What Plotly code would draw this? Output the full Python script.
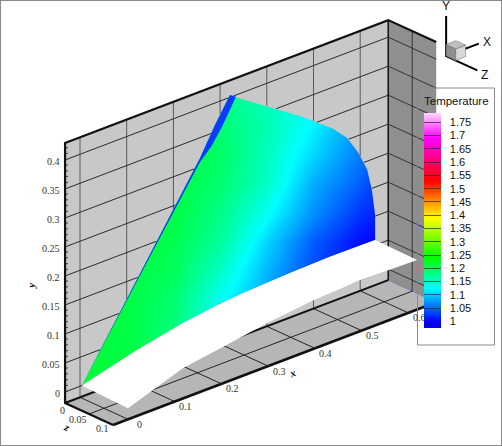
import numpy as np
import plotly.graph_objects as go

# axis limits of the box and the axis ticks
X_MIN, X_MAX = -0.032, 0.66
Y_MIN, Y_MAX = -0.019, 0.4294
Z_MIN, Z_MAX = 0.0, 0.1
X_TICKS = [0, 0.1, 0.2, 0.3, 0.4, 0.5, 0.6]
Y_TICKS = [0, 0.05, 0.1, 0.15, 0.2, 0.25, 0.3, 0.35, 0.4]
Y_MINOR = [0, 0.01, 0.02, 0.03, 0.04, 0.06, 0.07, 0.08, 0.09, 0.11, 0.12, 0.13, 0.14, 0.16, 0.17, 0.18,
           0.19, 0.21, 0.22, 0.23, 0.24, 0.26, 0.27, 0.28, 0.29, 0.31, 0.32, 0.33, 0.34, 0.36, 0.37,
           0.38, 0.39, 0.41, 0.42]
Z_TICKS = [0, 0.05, 0.1]
LEGEND_TICKS = [1, 1.05, 1.1, 1.15, 1.2, 1.25, 1.3, 1.35, 1.4, 1.45, 1.5, 1.55, 1.6, 1.65, 1.7, 1.75]
LEGEND_LABELS = ["1", "1.05", "1.1", "1.15", "1.2", "1.25", "1.3", "1.35", "1.4", "1.45",
                 "1.5", "1.55", "1.6", "1.65", "1.7", "1.75"]

# outline of the temperature plane (z = 0)
arc_x = [0.332, 0.385, 0.428, 0.471, 0.507, 0.542, 0.572, 0.595, 0.615, 0.625, 0.632, 0.632]
arc_y = [0.397, 0.369, 0.345, 0.322, 0.300, 0.278, 0.253, 0.222, 0.185, 0.147, 0.102, 0.059]
shock_x = [0.321, 0.289, 0.257, 0.004]
shock_y = [0.404, 0.362, 0.315, 0.0]
shock_inner_x = [0.334, 0.304, 0.2805, 0.257, 0.004]
shock_inner_y = [0.397, 0.354, 0.3268, 0.308, 0.0]

# ramp body, edge at z = 0 and edge at z = 0.1
ramp_top_x = [0.004, 0.122, 0.2206, 0.2998, 0.3426, 0.4433, 0.5353, 0.632]
ramp_top_y = [0.0, 0.0253, 0.0416, 0.0505, 0.0535, 0.0575, 0.0595, 0.059]
ramp_low_x = [0.0, 0.118, 0.218, 0.298, 0.396, 0.497, 0.619]
ramp_low_y = [0.0, 0.0334, 0.0455, 0.056, 0.0645, 0.0685, 0.0662]

field_x = [0, 0.1, 0.2, 0.3, 0.4, 0.5, 0.6, 0.7]
field_v = [0, 0.05, 0.1, 0.15, 0.2, 0.25, 0.3, 0.35, 0.4, 0.45, 0.5]
field_t = [
    [1.215, 1.21, 1.17, 1.12, 1.08, 1.03, 1.00, 1.00],
    [1.215, 1.21, 1.19, 1.12, 1.08, 1.03, 1.00, 1.00],
    [1.215, 1.21, 1.185, 1.12, 1.08, 1.03, 1.00, 1.00],
    [1.215, 1.21, 1.19, 1.13, 1.08, 1.03, 1.00, 1.00],
    [1.215, 1.21, 1.20, 1.15, 1.09, 1.035, 1.005, 1.00],
    [1.215, 1.21, 1.205, 1.17, 1.105, 1.045, 1.005, 1.00],
    [1.215, 1.21, 1.21, 1.18, 1.13, 1.07, 1.025, 1.00],
    [1.215, 1.21, 1.21, 1.19, 1.15, 1.085, 1.045, 1.00],
    [1.215, 1.21, 1.21, 1.195, 1.155, 1.105, 1.06, 1.03],
    [1.215, 1.21, 1.21, 1.19, 1.16, 1.12, 1.07, 1.05],
    [1.215, 1.21, 1.21, 1.18, 1.155, 1.125, 1.10, 1.05],
]

T_MIN, T_MAX = 0.975, 1.785
rainbow = [
    [0.0, "#0000ff"], [0.031, "#0000ff"], [0.185, "#00ffff"], [0.327, "#00ff00"],
    [0.512, "#ffff00"], [0.685, "#ff0000"], [0.883, "#ff00ff"], [1.0, "#ffd8ff"],
]

WALL = "#c8c8c8"
FLOOR = "#b6b6b6"
SIDE = "#8f8f8f"
INK = "#111111"
SERIF = "Liberation Serif"
SANS = "Liberation Sans"

# oblique view: 3D data to the two flat axes
Z_U, X_V, Z_V = 1.028, 0.306, -0.379


def project(x, y, z):
    x, y, z = np.asarray(x, float), np.asarray(y, float), np.asarray(z, float)
    return x + Z_U * z, y + X_V * x + Z_V * z


def polygon(points):
    xs, ys, zs = zip(*points)
    u, v = project(list(xs) + [xs[0]], list(ys) + [ys[0]], list(zs) + [zs[0]])
    return list(u), list(v)


def inside(u, v, pu, pv):
    hit = np.zeros_like(u, dtype=bool)
    for i in range(len(pu) - 1):
        cross = (pv[i] > v) != (pv[i + 1] > v)
        with np.errstate(divide="ignore", invalid="ignore"):
            at = pu[i] + (v - pv[i]) * (pu[i + 1] - pu[i]) / (pv[i + 1] - pv[i])
        hit ^= cross & (u < at)
    return hit


hole_x = ramp_top_x + arc_x[::-1] + shock_x
hole_y = ramp_top_y + arc_y[::-1] + shock_y
hole_u, hole_v = polygon([(a, b, 0) for a, b in zip(hole_x, hole_y)])


def grid_lines(segments, color, width=1):
    us, vs = [], []
    for p, q in segments:
        t = np.linspace(0, 1, 500)
        u, v = project(p[0] + t * (q[0] - p[0]), p[1] + t * (q[1] - p[1]), p[2] + t * (q[2] - p[2]))
        if p[2] == 0 and q[2] == 0 and p[0] != X_MAX:
            v = np.where(inside(u, v, hole_u, hole_v), np.nan, v)
        us += list(u) + [None]
        vs += list(v) + [None]
    return go.Scatter(x=us, y=vs, mode="lines", line=dict(color=color, width=width), hoverinfo="skip")


def solid(u, v, color, line=None):
    return go.Scatter(x=u, y=v, mode="lines", fill="toself", fillcolor=color,
                      line=dict(color=line or color, width=0.5 if line else 0), hoverinfo="skip")


def edge(points, width=2.0, color=INK):
    xs, ys, zs = zip(*points)
    u, v = project(xs, ys, zs)
    return go.Scatter(x=list(u), y=list(v), mode="lines", line=dict(color=color, width=width), hoverinfo="skip")


fig = go.Figure()

fig.add_trace(go.Heatmap(
    x=field_x, y=field_v, z=field_t, zsmooth="best", zmin=T_MIN, zmax=T_MAX,
    colorscale=rainbow, hoverinfo="skip",
    colorbar=dict(
        tickmode="array", tickvals=LEGEND_TICKS, ticktext=["\u00a0\u00a0" + s for s in LEGEND_LABELS],
        ticks="inside", ticklen=17, tickwidth=1, tickcolor="rgba(40,40,40,0.7)",
        tickfont=dict(family=SANS, size=11, color=INK),
        thickness=17, thicknessmode="pixels", len=215, lenmode="pixels",
        x=424 / 502, xanchor="left", y=1 - 113 / 446, yanchor="top",
        xpad=0, ypad=0, outlinewidth=0, borderwidth=0, bgcolor="rgba(0,0,0,0)",
    ),
))

# white page round the box hides the rest of the field grid
corners = [(X_MIN, Y_MAX, 0), (X_MAX, Y_MAX, 0), (X_MAX, Y_MAX, Z_MAX), (X_MAX, Y_MIN, Z_MAX),
           (X_MIN, Y_MIN, Z_MAX), (X_MIN, Y_MIN, 0)]
hull_u, hull_v = polygon(corners)
page_u = [-0.2, 1.0, 1.0, -0.2, -0.2]
page_v = [-0.2, -0.2, 0.8, 0.8, -0.2]
fig.add_trace(solid(page_u + [None] + hull_u, page_v + [None] + hull_v, "#ffffff"))

# walls: back wall has the temperature plane cut out
back_u, back_v = polygon([(X_MIN, Y_MIN, 0), (X_MAX, Y_MIN, 0), (X_MAX, Y_MAX, 0), (X_MIN, Y_MAX, 0)])
fig.add_trace(solid(back_u + [None] + hole_u[::-1], back_v + [None] + hole_v[::-1], WALL))
u, v = polygon([(X_MAX, Y_MIN, 0), (X_MAX, Y_MIN, Z_MAX), (X_MAX, Y_MAX, Z_MAX), (X_MAX, Y_MAX, 0)])
fig.add_trace(solid(u, v, SIDE))
u, v = polygon([(X_MIN, Y_MIN, 0), (X_MAX, Y_MIN, 0), (X_MAX, Y_MIN, Z_MAX), (X_MIN, Y_MIN, Z_MAX)])
fig.add_trace(solid(u, v, FLOOR))

# grid lines
fig.add_trace(grid_lines([((x, Y_MIN, 0), (x, Y_MAX, 0)) for x in X_TICKS], "#5a5a5a"))
fig.add_trace(grid_lines([((X_MIN, y, 0), (X_MAX, y, 0)) for y in Y_TICKS], "#2a2a2a"))
fig.add_trace(grid_lines(
    [((X_MAX, y, 0), (X_MAX, y, Z_MAX)) for y in Y_TICKS] + [((X_MAX, Y_MIN, 0.05), (X_MAX, Y_MAX, 0.05))],
    "#333333"))
fig.add_trace(grid_lines(
    [((x, Y_MIN, 0), (x, Y_MIN, Z_MAX)) for x in X_TICKS] + [((X_MIN, Y_MIN, 0.05), (X_MAX, Y_MIN, 0.05))],
    "#222222"))
fig.add_trace(grid_lines([((X_MIN, y, 0), (X_MIN + 0.006, y, 0)) for y in Y_MINOR], "#333333"))

# box edges
fig.add_trace(edge([(X_MIN, Y_MIN, Z_MAX), (X_MIN, Y_MIN, 0), (X_MIN, Y_MAX, 0), (X_MAX, Y_MAX, 0),
                    (X_MAX, Y_MAX, Z_MAX)], 2.2))
fig.add_trace(edge([(X_MIN, Y_MIN, 0), (X_MAX, Y_MIN, 0)], 2.0))
fig.add_trace(edge([(X_MAX, Y_MIN, 0), (X_MAX, Y_MAX, 0)], 1.5))
fig.add_trace(edge([(X_MIN, Y_MIN, Z_MAX), (X_MAX, Y_MIN, Z_MAX)], 2.6))

# blue sliver along the shock
u, v = polygon([(a, b, 0) for a, b in zip(shock_x + shock_inner_x[::-1], shock_y + shock_inner_y[::-1])])
fig.add_trace(solid(u, v, "#0a3cff"))

# ramp, drawn last so it hides the floor and wall behind it
u1, v1 = project(ramp_top_x, ramp_top_y, [0] * len(ramp_top_x))
u2, v2 = project(ramp_low_x, ramp_low_y, [Z_MAX] * len(ramp_low_x))
fig.add_trace(solid(list(u1) + list(u2[::-1]) + [u1[0]], list(v1) + list(v2[::-1]) + [v1[0]], "#ffffff"))

# orientation triad with its small cube
TRIAD = (0.784, 0.3295, 0.0)
CUBE = (0.021, 0.02, 0.02)


def at(dx=0.0, dy=0.0, dz=0.0):
    return (TRIAD[0] + dx, TRIAD[1] + dy, TRIAD[2] + dz)


fig.add_trace(edge([at(dy=0.069), at(), at(dz=0.065)], 2.0, "#000000"))
fig.add_trace(edge([at(), at(dx=0.07)], 2.0, "#000000"))
a, b, c = CUBE
for face, color in [
    ([at(), at(dz=c), at(dz=c, dy=b), at(dy=b)], "#8f8f8f"),
    ([at(dz=c), at(dz=c, dx=a), at(dz=c, dx=a, dy=b), at(dz=c, dy=b)], "#d8d8d8"),
    ([at(dy=b), at(dy=b, dz=c), at(dy=b, dz=c, dx=a), at(dy=b, dx=a)], "#c0c0c0"),
]:
    u, v = polygon(face)
    fig.add_trace(solid(u, v, color, "#666666"))


def label(point, text, dx=0, dy=0, size=10, family=SERIF, anchor="center", angle=0, color="#333333"):
    u, v = project(*point)
    fig.add_annotation(x=float(u), y=float(v), text=text, showarrow=False, xshift=dx, yshift=dy,
                       xanchor=anchor, textangle=angle, font=dict(family=family, size=size, color=color))


for x in X_TICKS:
    label((x, Y_MIN, Z_MAX), f"{x:g}", 11, -5)
for y in Y_TICKS:
    label((X_MIN, y, 0), f"{y:g}", -3, -2, anchor="right")
label((X_MIN, Y_MIN, 0), "0", -3, -7)
label((X_MIN, Y_MIN, 0.05), "0.05", -11, -6)
label((X_MIN, Y_MIN, 0.1), "0.1", -11, -4)
label((0.35, Y_MIN, Z_MAX), "<b><i>x</i></b>", 1, -16, angle=-20, size=11, color=INK)
label((X_MIN, 0.19, 0), "<b><i>y</i></b>", -34, -5, angle=-90, size=11, color=INK)
label((X_MIN, Y_MIN, 0.06), "<b><i>z</i></b>", -27, -11, angle=25, size=11, color=INK)
label(at(dy=0.069), "Y", 0, 10, size=12, family=SANS, color=INK)
label(at(dx=0.07), "X", 8, 2, size=12, family=SANS, color=INK)
label(at(dz=0.065), "Z", 7, -5, size=12, family=SANS, color=INK)

fig.add_annotation(xref="paper", yref="paper", x=456 / 502, y=1 - 101 / 446, text="Temperature", showarrow=False,
                   xanchor="center", yanchor="middle", font=dict(family=SANS, size=11.5, color=INK))

fig.update_layout(
    width=502, height=446, margin=dict(l=0, r=0, t=0, b=0), autosize=False,
    paper_bgcolor="white", plot_bgcolor="white", showlegend=False,
    xaxis=dict(range=[-80 / 467, 422 / 467], visible=False, fixedrange=True),
    yaxis=dict(range=[-59.7 / 580, 386.3 / 580], visible=False, fixedrange=True),
    shapes=[
        dict(type="rect", xref="paper", yref="paper", x0=417.5 / 502, x1=494.5 / 502,
             y0=1 - 345 / 446, y1=1 - 88 / 446, line=dict(color="#8a8a8a", width=1)),
        dict(type="rect", xref="paper", yref="paper", x0=0, x1=1, y0=0, y1=1,
             line=dict(color="#8a8a8a", width=2)),
    ],
)

fig.write_html("out.html", config={"displayModeBar": False},
               post_script="document.body.style.margin='0';document.body.style.overflow='hidden';")
